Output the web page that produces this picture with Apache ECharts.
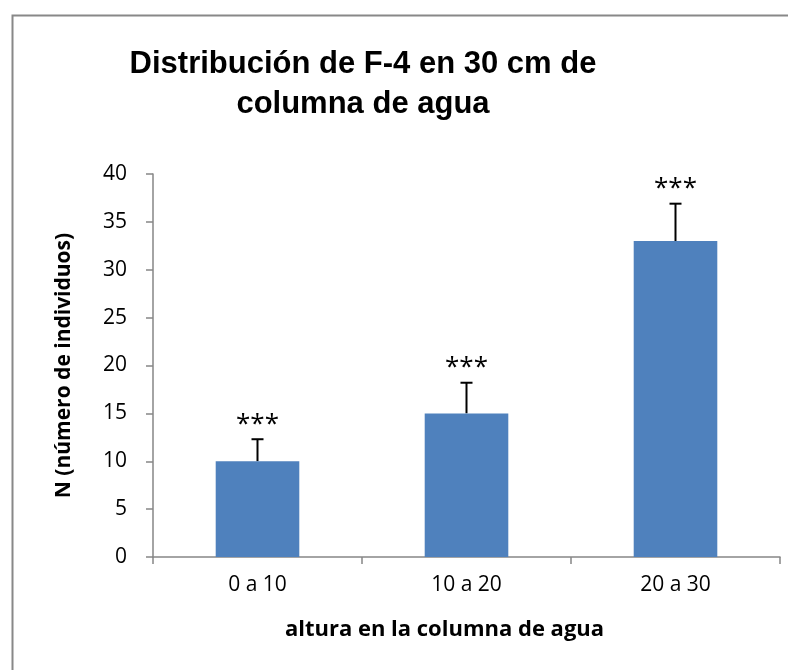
<!DOCTYPE html>
<html>
<head>
<meta charset="utf-8">
<script src="https://cdn.jsdelivr.net/npm/echarts@6/dist/echarts.min.js"></script>
<style>html,body{margin:0;padding:0;background:#fff}#c{width:788px;height:670px}</style>
</head>
<body>
<div id="c"></div>
<script>
var categories = ['0 a 10', '10 a 20', '20 a 30'];
var values = [10, 15, 33];
var errors = [2.3, 3.2, 3.9];
var marks = ['***', '***', '***'];
var yTicks = { min: 0, max: 40, interval: 5 };

var chart = echarts.init(document.getElementById('c'), null, { renderer: 'canvas' });
var errData = values.map(function (v, i) { return [i, v, v + errors[i]]; });
var font = 'Open Sans, Liberation Sans, sans-serif';
chart.setOption({
  animation: false,
  backgroundColor: '#fff',
  title: {
    text: 'Distribución de F-4 en 30 cm de\ncolumna de agua',
    left: 358, top: 39, textAlign: 'center',
    textStyle: { fontFamily: 'Liberation Sans, Arial, sans-serif', fontWeight: 'bold', fontSize: 31, lineHeight: 40, color: '#000' }
  },
  graphic: [{
    type: 'rect', shape: { x: 12.5, y: 15.5, width: 800, height: 700 },
    style: { fill: 'none', stroke: '#888', lineWidth: 2 }, silent: true
  }],
  grid: { left: 153, right: 8, top: 174, bottom: 113 },
  xAxis: {
    type: 'category', data: categories,
    axisLine: { lineStyle: { color: '#868686', width: 1.5 } },
    axisTick: { show: true, length: 7, alignWithLabel: false, lineStyle: { color: '#868686', width: 1.5 } },
    axisLabel: { fontFamily: font, fontSize: 21, color: '#000', margin: 18 },
    name: 'altura en la columna de agua', nameLocation: 'middle', nameGap: 62,
    nameTextStyle: { fontFamily: font, fontWeight: 'bold', fontSize: 22, color: '#000', padding: [0, 44, 0, 0] }
  },
  yAxis: {
    type: 'value', min: yTicks.min, max: yTicks.max, interval: yTicks.interval,
    splitLine: { show: false },
    axisLine: { show: true, lineStyle: { color: '#868686', width: 1.5 } },
    axisTick: { show: true, length: 7, lineStyle: { color: '#868686', width: 1.5 } },
    axisLabel: { fontFamily: font, fontSize: 21, color: '#000', margin: 26 },
    name: 'N (número de individuos)', nameLocation: 'middle', nameGap: 78, nameRotate: 90,
    nameTextStyle: { fontFamily: font, fontWeight: 'bold', fontSize: 21, color: '#000' }
  },
  series: [{
    type: 'bar', data: values, barWidth: '40%',
    itemStyle: { color: '#4F81BD' }
  }, {
    type: 'custom', data: errData,
    renderItem: function (params, api) {
      var x = api.value(0);
      var base = api.coord([x, api.value(1)]);
      var top = api.coord([x, api.value(2)]);
      var hw = 6;
      return {
        type: 'group',
        children: [
          { type: 'line', shape: { x1: base[0], y1: base[1], x2: top[0], y2: top[1] }, style: { stroke: '#000', lineWidth: 2 } },
          { type: 'line', shape: { x1: top[0] - hw, y1: top[1], x2: top[0] + hw, y2: top[1] }, style: { stroke: '#000', lineWidth: 2 } },
          { type: 'text', x: top[0], y: top[1] - 2, style: { text: marks[params.dataIndex], fontFamily: font, fontSize: 26, fill: '#000', align: 'center', verticalAlign: 'bottom' } }
        ]
      };
    }
  }]
});
</script>
</body>
</html>
